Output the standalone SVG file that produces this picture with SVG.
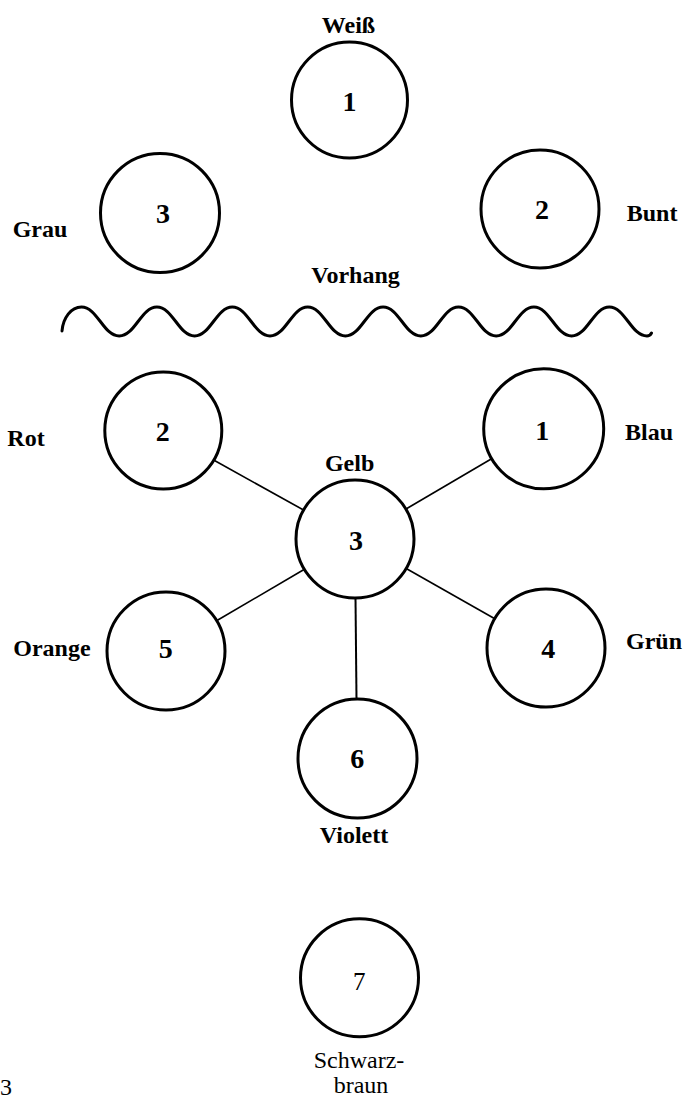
<svg xmlns="http://www.w3.org/2000/svg" width="686" height="1101" viewBox="0 0 686 1101">
<style>
.node{fill:none;stroke:#000;stroke-width:3}
.lbl{font-family:"Liberation Serif","Times New Roman",serif;font-size:24px;font-weight:bold;fill:#000}
.num{font-family:"Liberation Serif","Times New Roman",serif;font-size:28px;font-weight:bold;fill:#000;text-anchor:middle}
.reg{font-weight:normal}
.mid{text-anchor:middle}
.edge{stroke:#000;stroke-width:1.6;fill:none}
.wave{fill:none;stroke:#000;stroke-width:3;stroke-linecap:round}
</style>
<rect width="686" height="1101" fill="#fff"/>
<g id="weiss"><circle class="node" cx="349.5" cy="100" r="58"/><text class="num" x="349.5" y="111">1</text><text class="lbl mid" x="348.5" y="33">Weiß</text></g>
<g id="grau"><circle class="node" cx="160" cy="213" r="59.5"/><text class="num" x="163" y="223">3</text><text class="lbl" x="12.7" y="236.7">Grau</text></g>
<g id="bunt"><circle class="node" cx="540" cy="209" r="59"/><text class="num" x="542" y="219">2</text><text class="lbl" x="626.7" y="221">Bunt</text></g>
<g id="vorhang"><text class="lbl mid" x="355.5" y="283">Vorhang</text><path class="wave" d="M62 331 C63 318 71 307 81.5 307 c15.8 0 21.9 29 37.7 29 s21.9 -29 37.7 -29 s21.9 29 37.7 29 s21.9 -29 37.7 -29 s21.9 29 37.7 29 s21.9 -29 37.7 -29 s21.9 29 37.7 29 s21.9 -29 37.7 -29 s21.9 29 37.7 29 s21.9 -29 37.7 -29 s21.9 29 37.7 29 s21.9 -29 37.7 -29 s21.9 29 37.7 29 s21.9 -29 37.7 -29 s21.9 29 37.7 29 q3 0 4.5 -3"/></g>
<g id="connectors">
<line class="edge" x1="214.5" y1="460.5" x2="303.5" y2="510"/>
<line class="edge" x1="492" y1="458.5" x2="406" y2="509"/>
<line class="edge" x1="217" y1="620.5" x2="304" y2="569.5"/>
<line class="edge" x1="494.8" y1="618.8" x2="406.2" y2="568.5"/>
<line class="edge" x1="355.5" y1="598" x2="356.5" y2="699.5" style="stroke-width:2"/>
</g>
<g id="rot"><circle class="node" cx="163.3" cy="430.5" r="58.5"/><text class="num" x="162.7" y="441">2</text><text class="lbl" x="7.3" y="446">Rot</text></g>
<g id="blau"><circle class="node" cx="543.7" cy="428.8" r="60"/><text class="num" x="542.3" y="440">1</text><text class="lbl" x="625" y="440">Blau</text></g>
<g id="gelb"><circle class="node" cx="355" cy="539" r="59"/><text class="num" x="356" y="550">3</text><text class="lbl mid" x="349.6" y="471">Gelb</text></g>
<g id="orange"><circle class="node" cx="166" cy="651" r="59"/><text class="num" x="165.7" y="658.3">5</text><text class="lbl" x="13.3" y="656">Orange</text></g>
<g id="gruen"><circle class="node" cx="546" cy="648" r="59"/><text class="num" x="548.3" y="658.3">4</text><text class="lbl" x="626" y="649.3">Grün</text></g>
<g id="violett"><circle class="node" cx="357.5" cy="758.5" r="59.5"/><text class="num" x="357.3" y="768.3">6</text><text class="lbl mid" x="354" y="843.3">Violett</text></g>
<g id="schwarzbraun"><circle class="node" cx="359.5" cy="977.8" r="59"/><text class="num reg" x="359.3" y="990" style="font-size:25px">7</text><text class="lbl mid reg" x="359" y="1067.7">Schwarz-</text><text class="lbl mid reg" x="361" y="1093.3">braun</text></g>
<text class="lbl reg" x="0" y="1095">3</text>
</svg>
